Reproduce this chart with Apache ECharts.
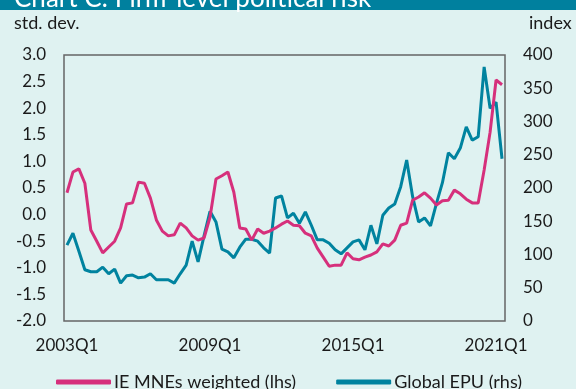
<!DOCTYPE html>
<html>
<head>
<meta charset="utf-8">
<script src="https://cdn.jsdelivr.net/npm/echarts@6/dist/echarts.min.js"></script>
<style>
  html, body { margin: 0; padding: 0; background: #dff2f1; }
  #chart { width: 576px; height: 389px; }
</style>
</head>
<body>
<div id="chart"></div>
<script>
// Quarterly categories, 2003Q1 to 2021Q2
const quarters = [];
for (let y = 2003; y <= 2021; y++) {
  for (let q = 1; q <= 4; q++) {
    if (y === 2021 && q > 2) break;
    quarters.push(y + 'Q' + q);
  }
}

// Firm-level political risk of Irish MNEs, weighted (std. dev., left axis)
const ieMnes = [
  0.41, 0.80, 0.86, 0.59, -0.29, -0.50, -0.72, -0.61, -0.50, -0.25,
  0.20, 0.22, 0.61, 0.59, 0.31, -0.10, -0.31, -0.40, -0.38, -0.16,
  -0.25, -0.40, -0.48, -0.44, -0.05, 0.67, 0.73, 0.80, 0.42, -0.25,
  -0.27, -0.48, -0.27, -0.35, -0.31, -0.25, -0.18, -0.12, -0.20, -0.21,
  -0.35, -0.40, -0.63, -0.80, -0.97, -0.95, -0.95, -0.72, -0.83, -0.85,
  -0.80, -0.76, -0.70, -0.55, -0.59, -0.48, -0.20, -0.16, 0.27, 0.33,
  0.41, 0.31, 0.18, 0.26, 0.27, 0.46, 0.39, 0.29, 0.22, 0.22,
  0.84, 1.55, 2.53, 2.44
];

// Global economic policy uncertainty index (right axis)
const globalEpu = [
  114, 132, 105, 77, 74, 74, 81, 71, 78, 57,
  68, 69, 65, 66, 71, 62, 62, 62, 57, 71,
  84, 120, 89, 128, 165, 149, 108, 104, 95, 111,
  123, 123, 120, 110, 102, 185, 188, 155, 162, 147,
  164, 144, 122, 122, 117, 107, 101, 110, 119, 122,
  107, 144, 116, 159, 170, 176, 202, 242, 187, 149,
  155, 143, 177, 208, 253, 244, 260, 292, 272, 277,
  382, 320, 329, 244
];

const xTickLabels = ['2003Q1', '2009Q1', '2015Q1', '2021Q1'];
const leftTicks = { min: -2, max: 3, step: 0.5 };
const rightTicks = { min: 0, max: 400, step: 50 };

const pink = '#d6307c';
const teal = '#00839f';
const textColor = '#1a1a1a';
const font = 'Lato, "Open Sans", sans-serif';

const chart = echarts.init(document.getElementById('chart'));
chart.setOption({
  backgroundColor: '#dff2f1',
  animation: false,
  textStyle: { fontFamily: font },
  graphic: [
    { type: 'rect', left: 0, top: 0, shape: { width: 576, height: 10 }, style: { fill: '#00809e' } },
    { type: 'text', left: 14, top: -14, style: { text: 'Chart C: Firm-level political risk', fill: '#ffffff', font: '26px ' + font } },
    { type: 'text', left: 14, top: 14, style: { text: 'std. dev.', fill: textColor, font: '18px ' + font } },
    { type: 'text', left: 529, top: 14, style: { text: 'index', fill: textColor, font: '18px ' + font } }
  ],
  grid: {
    left: 64, right: 71, top: 55, bottom: 68,
    show: true, borderColor: '#666666', borderWidth: 1.5, backgroundColor: 'transparent'
  },
  legend: {
    top: 368, left: 51,
    itemGap: 40, itemWidth: 55, itemHeight: 5,
    icon: 'roundRect',
    textStyle: { fontSize: 18, color: textColor, fontFamily: font, padding: [0, 0, 0, -2] },
    data: [
      { name: 'IE MNEs weighted (lhs)', itemStyle: { color: pink } },
      { name: 'Global EPU (rhs)', itemStyle: { color: teal } }
    ]
  },
  xAxis: {
    type: 'category',
    data: quarters,
    boundaryGap: true,
    axisLine: { show: false },
    axisTick: { show: false },
    axisLabel: {
      interval: (i, v) => xTickLabels.includes(v),
      fontSize: 17, color: textColor, margin: 16, fontFamily: font
    }
  },
  yAxis: [
    {
      type: 'value', min: leftTicks.min, max: leftTicks.max, interval: leftTicks.step,
      axisLine: { show: false }, axisTick: { show: false }, splitLine: { show: false },
      axisLabel: { fontSize: 17, color: textColor, margin: 18, fontFamily: font,
        formatter: v => v.toFixed(1) }
    },
    {
      type: 'value', min: rightTicks.min, max: rightTicks.max, interval: rightTicks.step,
      axisLine: { show: false }, axisTick: { show: false }, splitLine: { show: false },
      axisLabel: { fontSize: 17, color: textColor, margin: 18, fontFamily: font }
    }
  ],
  series: [
    {
      name: 'IE MNEs weighted (lhs)', type: 'line', yAxisIndex: 0,
      data: ieMnes, showSymbol: false, z: 3,
      lineStyle: { color: pink, width: 3 }, itemStyle: { color: pink }
    },
    {
      name: 'Global EPU (rhs)', type: 'line', yAxisIndex: 1,
      data: globalEpu, showSymbol: false, z: 2,
      lineStyle: { color: teal, width: 3 }, itemStyle: { color: teal }
    }
  ]
});
</script>
</body>
</html>
